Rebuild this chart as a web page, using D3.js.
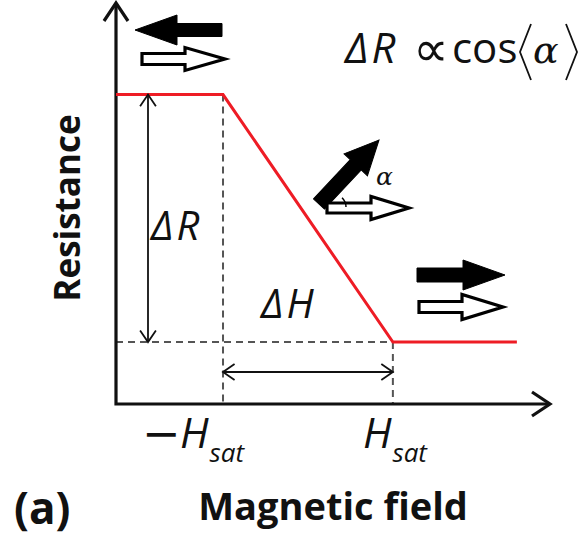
<!DOCTYPE html>
<html>
<head>
<meta charset="utf-8">
<script src="https://cdn.jsdelivr.net/npm/d3@7"></script>
<style>
  html, body { margin: 0; padding: 0; background: #fff; }
  svg { display: block; }
  .lbl { font-family: "Open Sans", sans-serif; font-weight: 700; fill: #111; }
  .math { font-family: "Open Sans", sans-serif; font-style: italic; fill: #111; }
</style>
</head>
<body>
<svg id="chart" width="584" height="540"></svg>
<script>
// 磁気抵抗の模式図 (a)
// 磁場 H は Hsat 単位、抵抗は ΔR で正規化

const fieldH = [-2.26, -1, 1, 2.46];
const resistance = [1, 1, 0, 0];
const hTicks = [-1, 1];
const hTickLabels = ["H", "H"];

const svg = d3.select("#chart");

const x = d3.scaleLinear().domain([-2.26, 2.85]).range([116, 550]);
const y = d3.scaleLinear().domain([-0.25, 1.37]).range([404, 3]);

const pts = fieldH.map((h, i) => ({ h, r: resistance[i] }));
const x0 = x(-2.26), y0 = y(-0.25);

// ---------- 補助の破線 ----------
const guide = svg.append("g").attr("stroke", "#555").attr("stroke-width", 2).attr("stroke-dasharray", "7,5");
guide.append("line").attr("x1", x(-1)).attr("x2", x(-1)).attr("y1", y(1)).attr("y2", y0);
guide.append("line").attr("x1", x(1)).attr("x2", x(1)).attr("y1", y(0)).attr("y2", y0);
guide.append("line").attr("x1", x0).attr("x2", x(1)).attr("y1", y(0)).attr("y2", y(0));

// ---------- 軸 ----------
const ax = svg.append("g").attr("stroke", "#111").attr("fill", "none").attr("stroke-width", 3.2);
ax.append("path").attr("d", `M${x0},${y(1.37)} L${x0},${y0} L${x(2.85)},${y0}`);
ax.append("path").attr("d", `M${x0 - 12},${y(1.37) + 18} L${x0},${y(1.37)} L${x0 + 12},${y(1.37) + 18}`);
ax.append("path").attr("d", `M${x(2.85) - 18},${y0 - 12} L${x(2.85)},${y0} L${x(2.85) - 18},${y0 + 12}`);

// ---------- 抵抗曲線 ----------
svg.append("path")
  .datum(pts)
  .attr("fill", "none")
  .attr("stroke", "#ee1c25")
  .attr("stroke-width", 3)
  .attr("d", d3.line().x((d) => x(d.h)).y((d) => y(d.r)));

// ---------- 両矢印 (ΔR, ΔH) ----------
function dbl(x1, y1, x2, y2) {
  const g = svg.append("g").attr("stroke", "#111").attr("fill", "none").attr("stroke-width", 1.8);
  g.append("line").attr("x1", x1).attr("y1", y1).attr("x2", x2).attr("y2", y2);
  const a = Math.atan2(y2 - y1, x2 - x1);
  const head = (px, py, ang) => {
    const s = 14, w = 0.6;
    return `M${px + s * Math.cos(ang + w)},${py + s * Math.sin(ang + w)} L${px},${py} L${px + s * Math.cos(ang - w)},${py + s * Math.sin(ang - w)}`;
  };
  g.append("path").attr("d", head(x1, y1, a));
  g.append("path").attr("d", head(x2, y2, a + Math.PI));
}
dbl(148, y(1), 148, y(0));
dbl(x(-1), 372, x(1), 372);

// ---------- ブロック矢印 ----------
function blockArrow(x1, y1, x2, y2, shaft, head, headLen, hollow) {
  const L = Math.hypot(x2 - x1, y2 - y1);
  const ang = (Math.atan2(y2 - y1, x2 - x1) * 180) / Math.PI;
  const p = [[0, -shaft], [L - headLen, -shaft], [L - headLen, -head], [L, 0], [L - headLen, head], [L - headLen, shaft], [0, shaft]];
  svg.append("path")
    .attr("transform", `translate(${x1},${y1}) rotate(${ang})`)
    .attr("d", "M" + p.join("L") + "Z")
    .attr("fill", hollow ? "#fff" : "#000")
    .attr("stroke", "#000")
    .attr("stroke-width", hollow ? 3.2 : 1)
    .attr("stroke-linejoin", "miter");
}
blockArrow(222, 30, 135, 30, 6.5, 15, 42, false);
blockArrow(142, 59, 225, 59, 5.5, 11.5, 40, true);

blockArrow(319, 204, 379, 140, 7.5, 16, 34, false);
blockArrow(327, 208, 409, 208, 5, 11.5, 38, true);
svg.append("path")
  .attr("d", d3.arc()({ innerRadius: 13, outerRadius: 13, startAngle: Math.PI / 2 - 0.8, endAngle: Math.PI / 2 }))
  .attr("transform", "translate(333,207)")
  .attr("fill", "none").attr("stroke", "#000").attr("stroke-width", 1.5);
svg.append("text").attr("x", 376).attr("y", 185)
  .attr("font-family", "DejaVu Serif").attr("font-style", "italic").attr("font-size", 25).attr("fill", "#111").text("α");

blockArrow(417, 275, 505, 275, 7, 15, 42, false);
blockArrow(419, 307, 503, 307, 5.5, 12.5, 41, true);

// ---------- テキスト ----------
const m = (tx, ty, size, str) =>
  svg.append("text").attr("class", "math").attr("x", tx).attr("y", ty).attr("font-size", size)
    .attr("letter-spacing", 3).text(str);
m(151, 240, 40, "ΔR");
m(261, 318, 40, "ΔH");

// 式 ΔR ∝ cos⟨α⟩
const eqY = 63;
m(345, eqY, 42, "ΔR");
svg.append("text").attr("x", 413).attr("y", eqY + 3).attr("font-family", "DejaVu Sans").attr("font-size", 50)
  .attr("fill", "#111").text("∝");
svg.append("text").attr("x", 452).attr("y", eqY).attr("font-family", "Open Sans, sans-serif").attr("font-size", 42)
  .attr("fill", "#111").text("cos");
svg.append("text").attr("x", 533).attr("y", eqY).attr("font-family", "DejaVu Serif").attr("font-style", "italic")
  .attr("font-size", 38).attr("fill", "#111").text("α");
const br = svg.append("g").attr("stroke", "#111").attr("fill", "none").attr("stroke-width", 1.8);
br.append("path").attr("d", "M531,24 L520,52 L531,80");
br.append("path").attr("d", "M566,24 L577,52 L566,80");

// 目盛りラベル −Hsat, Hsat
svg.append("text").attr("x", 142).attr("y", 449).attr("font-family", "DejaVu Sans")
  .attr("font-size", 46).attr("fill", "#111").text("−");
const hOff = [-43, -30];
hTicks.forEach((h, i) => {
  const t = svg.append("text").attr("class", "math").attr("x", x(h) + hOff[i]).attr("y", 448).attr("font-size", 42);
  t.append("tspan").text(hTickLabels[i]);
  t.append("tspan").attr("font-size", 26).attr("dy", 14).attr("dx", 1).text("sat");
});

svg.append("text").attr("class", "lbl").attr("x", 333).attr("y", 520).attr("text-anchor", "middle")
  .attr("font-size", 38).text("Magnetic field");
svg.append("text").attr("class", "lbl").attr("x", 14).attr("y", 524).attr("font-size", 44).text("(a)");
svg.append("text").attr("class", "lbl").attr("transform", "translate(80,208) rotate(-90)")
  .attr("text-anchor", "middle").attr("font-size", 35).text("Resistance");
</script>
</body>
</html>
